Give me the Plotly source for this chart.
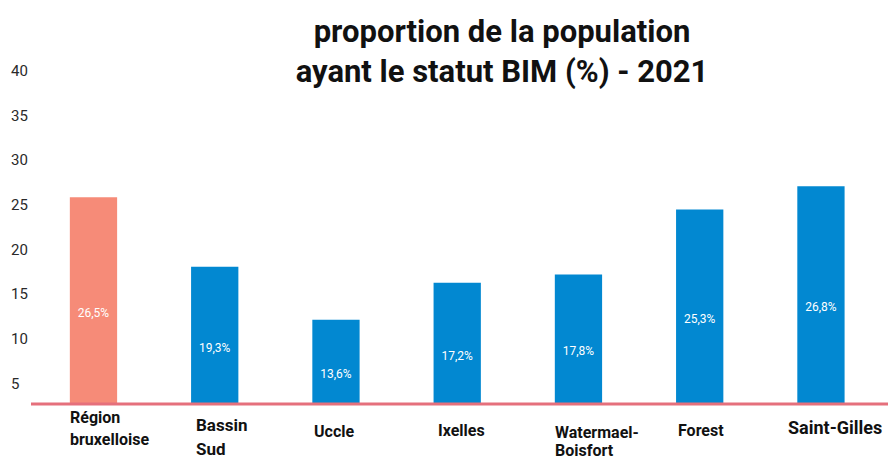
import plotly.graph_objects as go

# Données
communes = ["Région bruxelloise", "Bassin Sud", "Uccle", "Ixelles",
            "Watermael-Boisfort", "Forest", "Saint-Gilles"]
hauteurs = [25.85, 18.05, 12.13, 16.26, 17.2, 24.47, 27.08]
etiquettes = ["26,5%", "19,3%", "13,6%", "17,2%", "17,8%", "25,3%", "26,8%"]
lignes_noms = [["Région", "bruxelloise"], ["Bassin", "Sud"], ["Uccle"], ["Ixelles"],
               ["Watermael-", "Boisfort"], ["Forest"], ["Saint-Gilles"]]
y_ticks = [5, 10, 15, 20, 25, 30, 35, 40]

couleurs = ["#F68B78"] + ["#0288D1"] * 6

# la page ajoute une marge de 8 px autour de la figure
W, H = 888, 452

fig = go.Figure()
fig.add_trace(go.Bar(
    x=communes,
    y=hauteurs,
    width=0.39,
    marker=dict(color=couleurs, line=dict(width=0)),
    text=etiquettes,
    textposition="inside",
    insidetextanchor="middle",
    textfont=dict(family="Roboto", size=12, color="white"),
    hoverinfo="skip",
))

# Noms des communes (une annotation par ligne, alignées à gauche)
# (décalage x depuis le bord gauche de la barre, centres y des lignes en px, taille)
style_noms = [
    (0, [417, 439], 16),
    (5, [425, 449], 17),
    (2, [431], 16),
    (4, [430], 16),
    (0, [432, 450], 16),
    (2, [430], 16),
    (-9, [427], 18),
]
annotations = []
for i, (lignes, (dx, ys, taille)) in enumerate(zip(lignes_noms, style_noms)):
    for txt, yc in zip(lignes, ys):
        annotations.append(dict(
            x=communes[i], y=0, xref="x", yref="paper",
            xanchor="left", yanchor="middle",
            xshift=-23.5 + dx - 2, yshift=404 - yc,
            text=txt, showarrow=False, align="left",
            font=dict(family="Roboto", size=taille, color="#111111", weight="bold"),
        ))

fig.update_layout(
    width=W, height=H,
    margin=dict(l=0, r=0, t=52, b=56),
    plot_bgcolor="white", paper_bgcolor="white",
    showlegend=False,
    title=dict(
        text="proportion de la population<br>ayant le statut BIM (%) - 2021",
        x=494 / W, xanchor="center",
        y=1 - 34 / H, yanchor="middle",
        font=dict(family="Roboto", size=31, color="#111111", weight="bold"),
    ),
    xaxis=dict(range=[-0.705, 6.619], showticklabels=False, showgrid=False,
               zeroline=False, showline=False, fixedrange=True),
    yaxis=dict(range=[2.71, 41.19], tickvals=y_ticks, ticks="",
               ticklabelposition="inside", showgrid=False, zeroline=False,
               showline=False,
               tickfont=dict(family="Roboto", size=15, color="#2a2a2a")),
    annotations=annotations,
    shapes=[dict(type="line", xref="paper", yref="paper",
                 x0=23 / W, x1=1, y0=0, y1=0,
                 line=dict(color="#E5707C", width=3))],
)

fig.write_html("out.html")
